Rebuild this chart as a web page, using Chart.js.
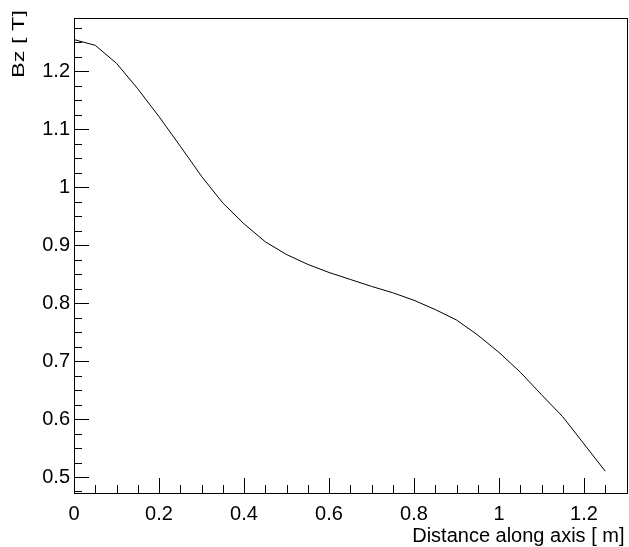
<!DOCTYPE html>
<html>
<head>
<meta charset="utf-8">
<script src="https://cdn.jsdelivr.net/npm/chart.js@4"></script>
<style>
  html, body { margin: 0; padding: 0; background: #fff; }
  .wrap { width: 629px; height: 547px; }
</style>
</head>
<body>
<div class="wrap"><canvas id="bz" width="629" height="547"></canvas></div>
<script>
// field along the axis, sampled every 5 cm
const distance = [0, 0.05, 0.1, 0.15, 0.2, 0.25, 0.3, 0.35, 0.4, 0.45, 0.5, 0.55, 0.6,
  0.65, 0.7, 0.75, 0.8, 0.85, 0.9, 0.95, 1.0, 1.05, 1.1, 1.15, 1.2, 1.25]
const bz = [1.255, 1.245, 1.214, 1.170, 1.122, 1.071, 1.019, 0.973, 0.937, 0.906, 0.884,
  0.867, 0.853, 0.841, 0.829, 0.818, 0.805, 0.789, 0.771, 0.745, 0.715, 0.681, 0.642,
  0.604, 0.557, 0.510]

const xTitle = 'Distance along axis [ m]'
const yTitle = 'Bz [ T]'

const FONT = '"Liberation Sans", Arial, Helvetica, sans-serif'

const points = distance.map((d, i) => ({ x: d, y: bz[i] }))

// ROOT-like frame, inner ticks and axis titles
const rootFrame = {
  id: 'rootFrame',
  afterDraw(chart) {
    const { ctx, chartArea: a, scales } = chart
    const xs = scales.x
    const ys = scales.y
    ctx.save()
    ctx.strokeStyle = '#000'
    ctx.lineWidth = 1
    ctx.strokeRect(Math.round(a.left) + 0.5, Math.round(a.top) + 0.5,
      Math.round(a.right - a.left) - 1, Math.round(a.bottom - a.top))

    ctx.beginPath()
    for (let i = 0; i <= 26; i++) {
      const v = i * 0.05
      if (v > xs.max + 1e-9) break
      const px = Math.round(xs.getPixelForValue(v)) + 0.5
      const len = (i % 4 === 0) ? 15 : 8
      ctx.moveTo(px, a.bottom)
      ctx.lineTo(px, a.bottom - len)
    }
    for (let i = 19; i <= 52; i++) {
      const v = i * 0.025
      if (v < ys.min - 1e-9 || v > ys.max + 1e-9) continue
      const py = Math.round(ys.getPixelForValue(v)) + 0.5
      const len = (i % 4 === 0) ? 15 : 8
      ctx.moveTo(a.left, py)
      ctx.lineTo(a.left + len, py)
    }
    ctx.stroke()

    ctx.fillStyle = '#000'
    ctx.font = '20px ' + FONT
    ctx.textAlign = 'right'
    ctx.textBaseline = 'alphabetic'
    ctx.fillText(xTitle, 624.5, 541.5)

    // rotated title is stretched along its length, like the ROOT output
    ctx.font = '16px ' + FONT
    const w = ctx.measureText(yTitle).width
    ctx.translate(23.5, 10)
    ctx.rotate(-Math.PI / 2)
    ctx.scale(68 / w, 1)
    ctx.textAlign = 'right'
    ctx.fillText(yTitle, 0, 0)
    ctx.restore()
  }
}

const fmt = v => String(Number(v.toFixed(2)))

new Chart(document.getElementById('bz'), {
  type: 'scatter',
  data: {
    datasets: [{
      data: points,
      showLine: true,
      borderColor: '#000',
      borderWidth: 1,
      pointRadius: 0,
      tension: 0
    }]
  },
  options: {
    responsive: false,
    animation: false,
    layout: { padding: { left: 0, top: 18, right: 1, bottom: 0 } },
    plugins: { legend: { display: false }, tooltip: { enabled: false } },
    scales: {
      x: {
        type: 'linear',
        min: 0,
        max: 1.3035,
        grid: { display: false, drawTicks: false },
        border: { display: false },
        ticks: {
          stepSize: 0.2,
          includeBounds: false,
          autoSkip: false,
          maxRotation: 0,
          padding: 9,
          color: '#000',
          font: { family: FONT, size: 20 },
          callback: fmt
        },
        afterFit(scale) { scale.height = 54 }
      },
      y: {
        type: 'linear',
        min: 0.4724,
        max: 1.2922,
        grid: { display: false, drawTicks: false },
        border: { display: false },
        ticks: {
          stepSize: 0.1,
          includeBounds: false,
          autoSkip: false,
          padding: 4,
          color: '#000',
          font: { family: FONT, size: 20 },
          callback: fmt
        },
        afterFit(scale) { scale.width = 74 }
      }
    }
  },
  plugins: [rootFrame]
})
</script>
</body>
</html>
